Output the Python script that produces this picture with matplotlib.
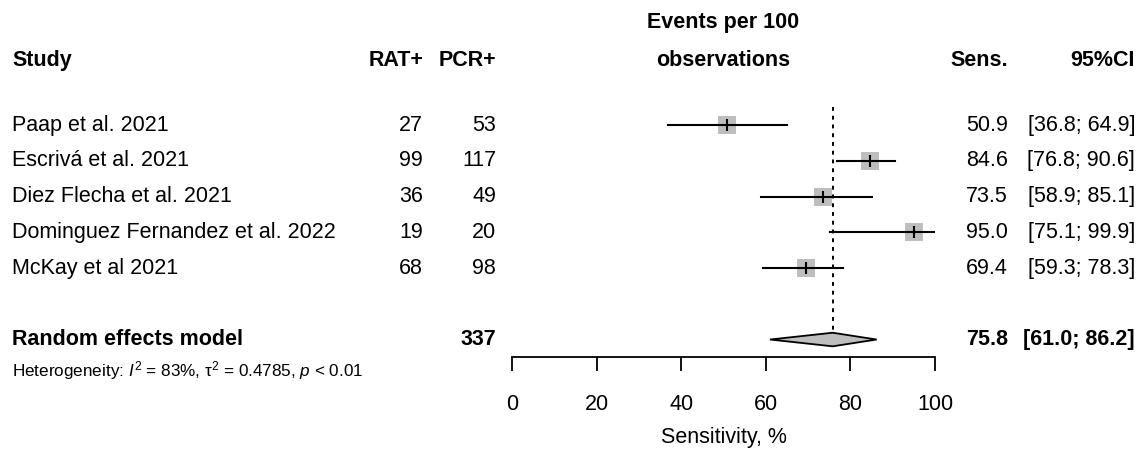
import matplotlib.pyplot as plt
from matplotlib.transforms import blended_transform_factory
from matplotlib.patches import Polygon

plt.rcParams["font.family"] = ["Liberation Sans", "DejaVu Sans"]
plt.rcParams["mathtext.fontset"] = "custom"
plt.rcParams["mathtext.rm"] = "Liberation Sans"
plt.rcParams["mathtext.it"] = "Liberation Sans:italic"

studies = ["Paap et al. 2021", "Escrivá et al. 2021", "Diez Flecha et al. 2021",
           "Dominguez Fernandez et al. 2022", "McKay et al 2021"]
rat_pos = [27, 99, 36, 19, 68]
pcr_pos = [53, 117, 49, 20, 98]
sens = [50.9, 84.6, 73.5, 95.0, 69.4]
ci_low = [36.8, 76.8, 58.9, 75.1, 59.3]
ci_high = [64.9, 90.6, 85.1, 99.9, 78.3]

pooled_sens = 75.8
pooled_low = 61.0
pooled_high = 86.2
pooled_total = 337
heterogeneity = r"Heterogeneity: $I^2$ = 83%, τ$^2$ = 0.4785, $p$ < 0.01"
xticks = [0, 20, 40, 60, 80, 100]

W, H = 1147, 450
fig = plt.figure(figsize=(W / 100, H / 100), dpi=100)
ax = fig.add_axes([512 / W, (H - 357.4) / H, (935 - 512) / W, 257.4 / H])
ax.set_xlim(0, 100)
ax.set_ylim(6.5, -0.7)

fs = 15.5
ytrans = blended_transform_factory(fig.transFigure, ax.transData)


def col(px):
  return px / W


# headers
hy = -1.8
ax.text(col(12), hy, "Study", transform=ytrans, ha="left", va="center", fontsize=fs, fontweight="bold", clip_on=False)
ax.text(col(423), hy, "RAT+", transform=ytrans, ha="right", va="center", fontsize=fs, fontweight="bold", clip_on=False)
ax.text(col(496), hy, "PCR+", transform=ytrans, ha="right", va="center", fontsize=fs, fontweight="bold", clip_on=False)
ax.text(50, -2.86, "Events per 100", ha="center", va="center", fontsize=fs, fontweight="bold", clip_on=False)
ax.text(50, hy, "observations", ha="center", va="center", fontsize=fs, fontweight="bold", clip_on=False)
ax.text(col(1008), hy, "Sens.", transform=ytrans, ha="right", va="center", fontsize=fs, fontweight="bold", clip_on=False)
ax.text(col(1135), hy, "95%CI", transform=ytrans, ha="right", va="center", fontsize=fs, fontweight="bold", clip_on=False)

# study rows
for i, name in enumerate(studies):
  ax.text(col(12), i, name, transform=ytrans, ha="left", va="center", fontsize=fs, clip_on=False)
  ax.text(col(423), i, str(rat_pos[i]), transform=ytrans, ha="right", va="center", fontsize=fs, clip_on=False)
  ax.text(col(496), i, str(pcr_pos[i]), transform=ytrans, ha="right", va="center", fontsize=fs, clip_on=False)
  ax.text(col(1008), i, f"{sens[i]:.1f}", transform=ytrans, ha="right", va="center", fontsize=fs, clip_on=False)
  ax.text(col(1135), i, f"[{ci_low[i]:.1f}; {ci_high[i]:.1f}]", transform=ytrans, ha="right", va="center", fontsize=fs, clip_on=False)
  ax.plot(sens[i], i, marker="s", markersize=12.5, color="#bebebe", markeredgewidth=0, zorder=2)
  ax.plot([ci_low[i], ci_high[i]], [i, i], color="black", lw=1.5, zorder=3)
  ax.plot(sens[i], i, marker="|", markersize=9, color="black", markeredgewidth=1.5, zorder=4)

# reference line at pooled estimate
ax.plot([pooled_sens, pooled_sens], [-0.5, 5.8], color="black", lw=1.4, linestyle=(0, (2, 2.5)), zorder=1)

# pooled row
py = 6
ax.text(col(12), py, "Random effects model", transform=ytrans, ha="left", va="center", fontsize=fs, fontweight="bold", clip_on=False)
ax.text(col(496), py, str(pooled_total), transform=ytrans, ha="right", va="center", fontsize=fs, fontweight="bold", clip_on=False)
ax.text(col(1008), py, f"{pooled_sens:.1f}", transform=ytrans, ha="right", va="center", fontsize=fs, fontweight="bold", clip_on=False)
ax.text(col(1135), py, f"[{pooled_low:.1f}; {pooled_high:.1f}]", transform=ytrans, ha="right", va="center", fontsize=fs, fontweight="bold", clip_on=False)
diamond = Polygon([(pooled_low, py), (pooled_sens, py - 0.19), (pooled_high, py), (pooled_sens, py + 0.19)],
                  closed=True, facecolor="#bebebe", edgecolor="black", lw=1.3, zorder=3)
ax.add_patch(diamond)

ax.text(col(12), 6.88, heterogeneity, transform=ytrans, ha="left", va="center", fontsize=12.3, clip_on=False)

# x axis
for side in ["top", "right", "left"]:
  ax.spines[side].set_visible(False)
ax.spines["bottom"].set_linewidth(1.3)
ax.set_yticks([])
ax.set_xticks(xticks)
ax.tick_params(axis="x", direction="out", length=10, width=1.3, pad=16, labelsize=fs)
ax.set_xlabel("Sensitivity, %", fontsize=fs, labelpad=9)
ax.patch.set_visible(False)

fig.savefig("out.png", dpi=100)
